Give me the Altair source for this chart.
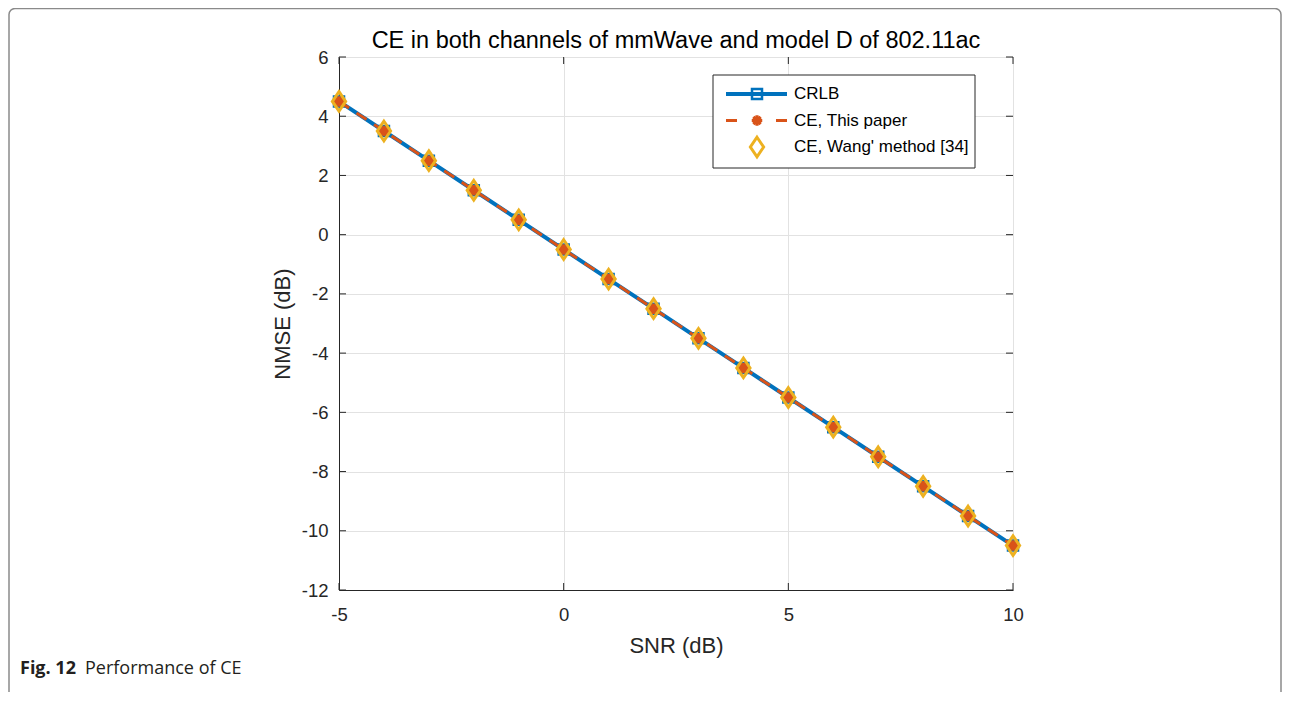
import altair as alt
import pandas as pd

# ---------------- data ----------------
snr = [-5, -4, -3, -2, -1, 0, 1, 2, 3, 4, 5, 6, 7, 8, 9, 10]
crlb = [4.5, 3.5, 2.5, 1.5, 0.5, -0.5, -1.5, -2.5, -3.5, -4.5, -5.5, -6.5, -7.5, -8.5, -9.5, -10.5]
ce_this_paper = [4.5, 3.5, 2.5, 1.5, 0.5, -0.5, -1.5, -2.5, -3.5, -4.5, -5.5, -6.5, -7.5, -8.5, -9.5, -10.5]
ce_wang = [4.5, 3.5, 2.5, 1.5, 0.5, -0.5, -1.5, -2.5, -3.5, -4.5, -5.5, -6.5, -7.5, -8.5, -9.5, -10.5]
series_names = ["CRLB", "CE, This paper", "CE, Wang' method [34]"]
x_ticks = [-5, 0, 5, 10]
y_ticks = [-12, -10, -8, -6, -4, -2, 0, 2, 4, 6]
title_text = "CE in both channels of mmWave and model D of 802.11ac"
x_title = "SNR (dB)"
y_title = "NMSE (dB)"
caption_bold = "Fig. 12"
caption_text = "Performance of CE"

# ---------------- styling ----------------
FONT = "Liberation Sans"
CAP_FONT = "Open Sans"
INK = "#262626"
BLUE = "#0072BD"
ORANGE = "#D95319"
YELLOW = "#EDB120"
W, H = 674, 533
PAD = {"left": 331, "top": 49, "right": 269, "bottom": 102}

DIAMOND = "M0,-1L0.68,0L0,1L-0.68,0Z"
ASTERISK = "M-1,0L1,0M0,-1L0,1M-0.7,-0.7L0.7,0.7M-0.7,0.7L0.7,-0.7"
LABEL_EXPR = "datum.value < 0 ? '-' + abs(datum.value) : '' + datum.value"

df = pd.DataFrame({"snr": snr, "crlb": crlb, "ce": ce_this_paper, "wang": ce_wang})
xt = pd.DataFrame({"snr": x_ticks})
yt = pd.DataFrame({"nmse": y_ticks})
one = pd.DataFrame({"k": [0]})

xs = alt.Scale(domain=[-5, 10], nice=False, zero=False)
ys = alt.Scale(domain=[-12, 6], nice=False, zero=False)

xaxis = alt.Axis(values=x_ticks, title=x_title, grid=True, gridColor="#e2e2e2",
                 tickSize=0, labelPadding=30, labelBaseline="alphabetic",
                 labelFontSize=18.5, labelColor=INK, labelFont=FONT, labelFlush=False,
                 labelExpr=LABEL_EXPR,
                 domainColor=INK, titleFont=FONT, titleFontSize=22,
                 titleFontWeight="normal", titleColor=INK, titleY=62,
                 titleBaseline="alphabetic")
yaxis = alt.Axis(values=y_ticks, title=y_title, grid=True, gridColor="#e2e2e2",
                 tickSize=0, labelPadding=11, labelFontSize=18.5, labelColor=INK,
                 labelFont=FONT, labelFlush=False, labelExpr=LABEL_EXPR,
                 domainColor=INK, titleFont=FONT,
                 titleFontSize=22, titleFontWeight="normal", titleColor=INK,
                 titleX=-45, titleY=H / 2, titleBaseline="bottom", titleAlign="center",
                 titleAngle=270)


def X(f):
    return alt.X(f, scale=xs, axis=xaxis, title=x_title)


def Y(f):
    return alt.Y(f, scale=ys, axis=yaxis, title=y_title)


base = alt.Chart(df)

crlb_line = base.mark_line(color=BLUE, strokeWidth=4).encode(x=X("snr:Q"), y=Y("crlb:Q"))
crlb_pts = base.mark_point(shape="square", size=100, filled=False, strokeWidth=2.5,
                           color=BLUE, opacity=1).encode(x=X("snr:Q"), y=Y("crlb:Q"))
ce_line = base.mark_line(color=ORANGE, strokeWidth=3, strokeDash=[12, 9]).encode(
    x=X("snr:Q"), y=Y("ce:Q"))
ce_pts = base.mark_point(shape=ASTERISK, size=110, filled=False, strokeWidth=3.2,
                         color=ORANGE, opacity=1).encode(x=X("snr:Q"), y=Y("ce:Q"))
wang_pts = base.mark_point(shape=DIAMOND, size=380, filled=False, strokeWidth=3,
                           color=YELLOW, opacity=1).encode(x=X("snr:Q"), y=Y("wang:Q"))

# inward ticks on all four sides
tl = alt.Chart(yt).mark_rule(color=INK, strokeWidth=1).encode(
    y=Y("nmse:Q"), x=alt.value(0), x2=alt.value(7))
tr = alt.Chart(yt).mark_rule(color=INK, strokeWidth=1).encode(
    y=Y("nmse:Q"), x=alt.value(W - 7), x2=alt.value(W))
tb = alt.Chart(xt).mark_rule(color=INK, strokeWidth=1).encode(
    x=X("snr:Q"), y=alt.value(H - 7), y2=alt.value(H))
tt = alt.Chart(xt).mark_rule(color=INK, strokeWidth=1).encode(
    x=X("snr:Q"), y=alt.value(0), y2=alt.value(7))

# legend
lg = alt.Chart(one)
leg_box = lg.mark_rect(fill="white", stroke=INK, strokeWidth=1).encode(
    x=alt.value(374), x2=alt.value(636), y=alt.value(18), y2=alt.value(111))
rows = [37, 63.5, 90]
leg_l1 = lg.mark_rule(color=BLUE, strokeWidth=4).encode(
    x=alt.value(387), x2=alt.value(448), y=alt.value(rows[0]))
leg_m1 = lg.mark_point(shape="square", size=100, filled=False, strokeWidth=2.5,
                       color=BLUE, opacity=1).encode(x=alt.value(418), y=alt.value(rows[0]))
leg_l2a = lg.mark_rule(color=ORANGE, strokeWidth=3).encode(
    x=alt.value(387), x2=alt.value(398), y=alt.value(rows[1]))
leg_l2b = lg.mark_rule(color=ORANGE, strokeWidth=3).encode(
    x=alt.value(437), x2=alt.value(448), y=alt.value(rows[1]))
leg_m2 = lg.mark_point(shape=ASTERISK, size=110, filled=False, strokeWidth=3.2,
                       color=ORANGE, opacity=1).encode(x=alt.value(418), y=alt.value(rows[1]))
leg_m3 = lg.mark_point(shape=DIAMOND, size=380, filled=False, strokeWidth=3,
                       color=YELLOW, opacity=1).encode(x=alt.value(418), y=alt.value(rows[2]))
leg_txt = [lg.mark_text(align="left", baseline="middle", font=FONT, fontSize=17,
                        color="black").encode(x=alt.value(455), y=alt.value(r),
                                              text=alt.value(t))
           for r, t in zip(rows, series_names)]

# title, outer frame + caption
title = lg.mark_text(align="center", baseline="alphabetic", font=FONT, fontSize=23.5,
                     color="black").encode(x=alt.value(W / 2), y=alt.value(-9),
                                           text=alt.value(title_text))
frame = lg.mark_rect(fill=None, stroke="#8a8a8a", strokeWidth=1.5, cornerRadius=6).encode(
    x=alt.value(-330), x2=alt.value(942), y=alt.value(-48.5), y2=alt.value(700))
cap1 = lg.mark_text(align="left", baseline="alphabetic", font=CAP_FONT, fontSize=18,
                    fontWeight="bold", color="#231f20").encode(
    x=alt.value(-319), y=alt.value(617), text=alt.value(caption_bold))
cap2 = lg.mark_text(align="left", baseline="alphabetic", font=CAP_FONT, fontSize=18,
                    color="#231f20").encode(
    x=alt.value(-254), y=alt.value(617), text=alt.value(caption_text))

chart = alt.layer(
    crlb_line, crlb_pts, ce_line, ce_pts, wang_pts, tl, tr, tb, tt,
    leg_box, leg_l1, leg_m1, leg_l2a, leg_l2b, leg_m2, leg_m3, *leg_txt,
    title, cap1, cap2, frame
).properties(
    width=W, height=H, padding=PAD,
    autosize=alt.AutoSizeParams(type="none")
).configure_view(stroke=INK, strokeWidth=1).configure(background="white")

chart.save("out.html", embed_options={"renderer": "svg", "actions": False})
